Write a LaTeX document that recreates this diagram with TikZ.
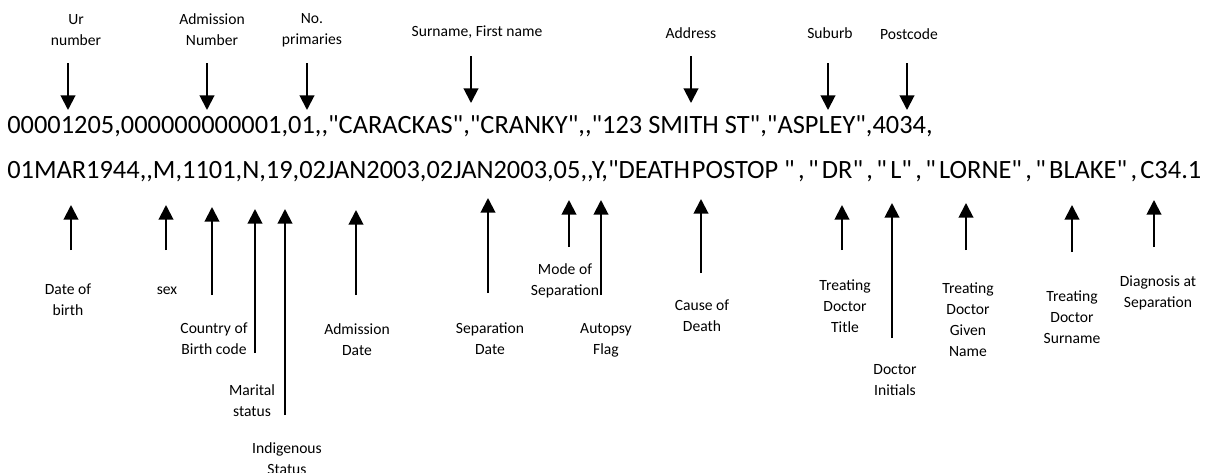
\documentclass[tikz,border=0pt]{standalone}
\usepackage{fontspec}
\setmainfont{Carlito}[Ligatures=TeXOff]
\usetikzlibrary{arrows.meta}
% extra spacing after punctuation in the tail of the second record line
\newdimen\pk \pk=2.5pt
\newXeTeXintercharclass\pclass
\XeTeXcharclass`\,=\pclass
\XeTeXcharclass`\"=\pclass
\XeTeXinterchartoks\pclass 0 = {\kern\pk}
\XeTeXinterchartoks\pclass\pclass = {\kern\pk}
\begin{document}
\begin{tikzpicture}[x=0.75pt,y=-0.75pt,
  lbl/.style={align=center, inner sep=0pt, font=\fontsize{11.7pt}{15.75pt}\selectfont},
  rec/.style={anchor=base west, inner sep=0pt, font=\fontsize{19.8pt}{24pt}\selectfont},
  arr/.style={-{Triangle[width=11pt,length=11pt]}, line width=1.5pt}]
\useasboundingbox (0,0) rectangle (1211,472);

% record lines
\node[rec] (line1) at (7,133) {00001205,000000000001,01,,"CARACKAS","CRANKY",,"123 SMITH ST","ASPLEY",4034,};
\node[rec] (line2) at (7,178) {01MAR1944,,M,1101,N,19,02JAN2003,02JAN2003,05,,Y,"DEATH\kern1.5pt POSTOP {\XeTeXinterchartokenstate=1 ","DR","L","LORNE","BLAKE",C34.1}};

% top labels
\node[lbl] (ur) at (76,30) {Ur\\number};
\node[lbl] (adm) at (212,30) {Admission\\Number};
\node[lbl] (nop) at (312,30) {No.\\primaries};
\node[lbl] (name) at (477,32) {Surname, First name};
\node[lbl] (addr) at (691,33) {Address};
\node[lbl] (suburb) at (830,33) {Suburb};
\node[lbl] (postcode) at (909,34) {Postcode};

% bottom labels
\node[lbl] (dob) at (68,300) {Date of\\birth};
\node[lbl] (sex) at (167,291) {sex};
\node[lbl] (cob) at (214,339) {Country of\\Birth code};
\node[lbl] (marital) at (252,401) {Marital\\status};
\node[lbl] (indig) at (287,459) {Indigenous\\Status};
\node[lbl] (admdate) at (357,340) {Admission\\Date};
\node[lbl] (sepdate) at (490,339) {Separation\\Date};
\node[lbl] (mode) at (565,281) {Mode of\\Separation};
\node[lbl] (autopsy) at (606,340) {Autopsy\\Flag};
\node[lbl] (cause) at (702,316) {Cause of\\Death};
\node[lbl] (title) at (845,306) {Treating\\Doctor\\Title};
\node[lbl] (initials) at (895,380) {Doctor\\Initials};
\node[lbl] (given) at (968,320) {Treating\\Doctor\\Given\\Name};
\node[lbl] (surname) at (1072,317) {Treating\\Doctor\\Surname};
\node[lbl] (diag) at (1158,293) {Diagnosis at\\Separation};

% arrows: name / x / start y / tip y
\foreach \n/\x/\a/\b in {
  aur/68/63/110, aadm/207/63/110, anop/307/63/110, aname/471/56/103,
  aaddr/691/56/103, asuburb/828/63/110, apost/907/63/110,
  adob/71/250/205, asex/166/250/205, acob/212/295/207, amar/255/353/209,
  aind/285/415/209, aadmd/356/295/210, asepd/488/293/198, amode/569/247/200,
  aaut/601/295/200, acause/701/273/199, atitle/842/250/205, ainit/892/338/203,
  agiven/966/250/203, asurn/1072/252/205, adiag/1154/247/200}
{
  \coordinate (\n-s) at (\x,\a);
  \coordinate (\n-t) at (\x,\b);
  \draw[arr] (\n-s) -- (\n-t);
}
\end{tikzpicture}
\end{document}
